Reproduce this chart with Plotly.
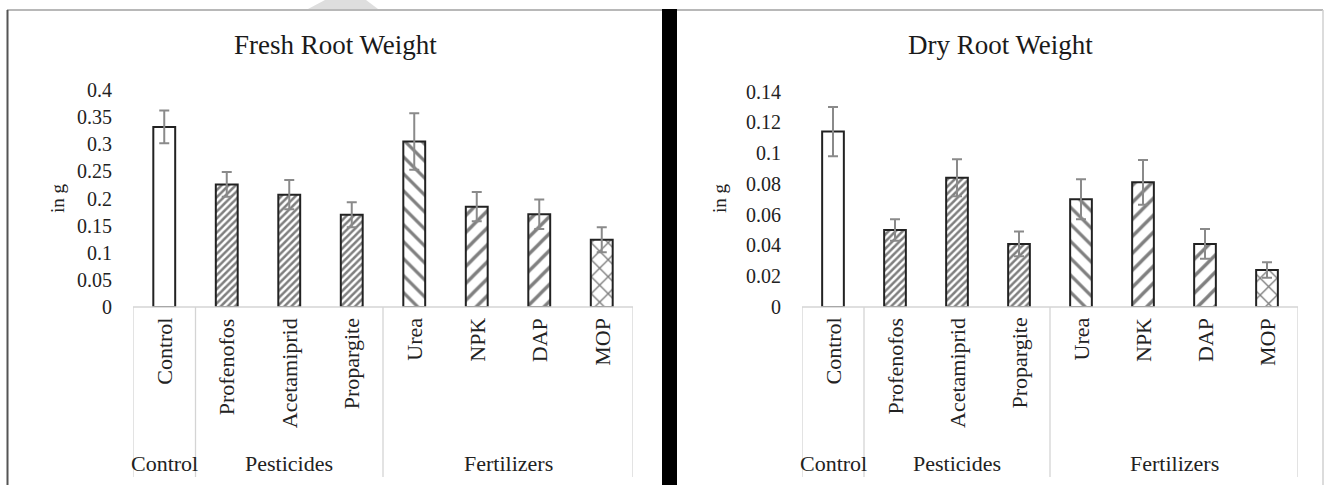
import plotly.graph_objects as go

# ---------------- data ----------------
categories = ["Control", "Profenofos", "Acetamiprid", "Propargite", "Urea", "NPK", "DAP", "MOP"]
groups = ["Control", "Pesticides", "Pesticides", "Pesticides", "Fertilizers", "Fertilizers", "Fertilizers", "Fertilizers"]

fresh_weight = [0.332, 0.226, 0.207, 0.170, 0.305, 0.185, 0.171, 0.124]
fresh_error = [0.030, 0.023, 0.027, 0.023, 0.052, 0.027, 0.027, 0.023]

dry_weight = [0.114, 0.050, 0.084, 0.041, 0.070, 0.081, 0.041, 0.024]
dry_error = [0.016, 0.007, 0.012, 0.008, 0.013, 0.0145, 0.0096, 0.005]

fresh_ticks = [0, 0.05, 0.1, 0.15, 0.2, 0.25, 0.3, 0.35, 0.4]
fresh_ticktext = ["0", "0.05", "0.1", "0.15", "0.2", "0.25", "0.3", "0.35", "0.4"]
dry_ticks = [0, 0.02, 0.04, 0.06, 0.08, 0.10, 0.12, 0.14]
dry_ticktext = ["0", "0.02", "0.04", "0.06", "0.08", "0.1", "0.12", "0.14"]

titles = ["Fresh Root Weight", "Dry Root Weight"]
y_title = "in g"

# ---------------- styles ----------------
W, H = 1325, 485
FONT = "Liberation Serif"
pattern_shapes = ["", "/", "/", "/", "\\", "/", "/", "x"]
pattern_sizes = [6, 5, 5, 5, 12, 12, 12, 12]
pattern_solidity = [0.3, 0.5, 0.5, 0.5, 0.27, 0.28, 0.28, 0.22]

def px_x(p):
    return p / W

def px_y(p):
    return (H - p) / H

panels = [
    dict(vals=fresh_weight, err=fresh_error, ticks=fresh_ticks, ticktext=fresh_ticktext,
         rng=[0, 0.4], x0=133, x1=633, y0=307, y1=90, title_x=335, ytitle_x=57),
    dict(vals=dry_weight, err=dry_error, ticks=dry_ticks, ticktext=dry_ticktext,
         rng=[0, 0.14], x0=802, x1=1298, y0=307, y1=91.5, title_x=1000, ytitle_x=719),
]

fig = go.Figure()
shapes = []
annotations = []

for i, p in enumerate(panels):
    xa = "x" if i == 0 else "x2"
    ya = "y" if i == 0 else "y2"
    fig.add_trace(go.Bar(
        x=categories, y=p["vals"], xaxis=xa, yaxis=ya,
        marker=dict(
            color="white",
            line=dict(color="#222222", width=2),
            pattern=dict(shape=pattern_shapes, size=pattern_sizes, solidity=pattern_solidity,
                         fgcolor="#000000", bgcolor="white", fillmode="overlay"),
        ),
        error_y=dict(type="data", array=p["err"], visible=True, color="#8a8a8a", thickness=2, width=5),
        showlegend=False,
        hoverinfo="x+y",
    ))

    xkey = "xaxis" if i == 0 else "xaxis2"
    ykey = "yaxis" if i == 0 else "yaxis2"
    fig.layout[xkey] = dict(
        domain=[px_x(p["x0"]), px_x(p["x1"])], anchor=ya, type="category",
        range=[-0.5, len(categories) - 0.5], showticklabels=False, showline=False,
        showgrid=False, zeroline=False, ticks="", automargin=False,
    )
    fig.layout[ykey] = dict(
        domain=[px_y(p["y0"]), px_y(p["y1"])], anchor=xa, range=p["rng"],
        tickvals=p["ticks"], ticktext=p["ticktext"], showgrid=False, zeroline=False,
        showline=False, ticks="", ticklabelstandoff=20, automargin=False,
        tickfont=dict(family=FONT, size=20, color="#222222"),
    )

    # Category-axis box: baseline + group separators
    xref = xa
    base_y = px_y(p["y0"])
    bottom_y = px_y(477)
    shapes.append(dict(type="line", xref=xref, yref="paper", x0=-0.5, x1=len(categories) - 0.5,
                       y0=base_y, y1=base_y, line=dict(color="#d4d4d4", width=1.3)))
    bounds = [-0.5]
    for k in range(1, len(groups)):
        if groups[k] != groups[k - 1]:
            bounds.append(k - 0.5)
    bounds.append(len(categories) - 0.5)
    for b in bounds:
        shapes.append(dict(type="line", xref=xref, yref="paper", x0=b, x1=b,
                           y0=base_y, y1=bottom_y, line=dict(color="#d4d4d4", width=1.3)))

    # category labels (rotated)
    for c in categories:
        annotations.append(dict(
            x=c, y=px_y(316), xref=xref, yref="paper", text=c, textangle=-90,
            showarrow=False, xanchor="center", yanchor="top",
            font=dict(family=FONT, size=22, color="#222222"),
        ))
    # group labels
    for a, b in zip(bounds[:-1], bounds[1:]):
        gname = groups[int(a + 0.5)]
        annotations.append(dict(
            x=(a + b) / 2, y=px_y(463), xref=xref, yref="paper", text=gname,
            showarrow=False, xanchor="center", yanchor="middle",
            font=dict(family=FONT, size=22, color="#222222"),
        ))
    # title
    annotations.append(dict(
        x=px_x(p["title_x"]), y=px_y(45), xref="paper", yref="paper", text=titles[i],
        showarrow=False, xanchor="center", yanchor="middle",
        font=dict(family=FONT, size=27, color="#1a1a1a"),
    ))
    # y-axis title
    annotations.append(dict(
        x=px_x(p["ytitle_x"]), y=px_y(198), xref="paper", yref="paper", text=y_title,
        textangle=-90, showarrow=False, xanchor="center", yanchor="middle",
        font=dict(family=FONT, size=19, color="#222222"),
    ))

# outer frame pieces
shapes += [
    dict(type="line", xref="paper", yref="paper", x0=px_x(7), x1=px_x(1323), y0=px_y(10), y1=px_y(10),
         line=dict(color="#b8b8b8", width=2)),
    dict(type="line", xref="paper", yref="paper", x0=px_x(7.5), x1=px_x(7.5), y0=px_y(10), y1=0,
         line=dict(color="#555555", width=2)),
    dict(type="line", xref="paper", yref="paper", x0=px_x(1323), x1=px_x(1323), y0=px_y(10), y1=0,
         line=dict(color="#d0d0d0", width=1.5)),
    dict(type="rect", xref="paper", yref="paper", x0=px_x(662), x1=px_x(677), y0=0, y1=px_y(9),
         fillcolor="black", line=dict(width=0)),
    dict(type="path", xref="paper", yref="paper",
         path=f"M {px_x(308)} {px_y(9)} L {px_x(378)} {px_y(9)} L {px_x(366)} {px_y(0)} L {px_x(325)} {px_y(0)} Z",
         fillcolor="#dedede", line=dict(width=0)),
]

fig.update_layout(
    width=W, height=H, margin=dict(l=0, r=0, t=0, b=0, pad=0, autoexpand=False),
    paper_bgcolor="white", plot_bgcolor="white",
    bargap=0.65, shapes=shapes, annotations=annotations,
    font=dict(family=FONT, color="#222222"),
)

fig.write_html("out.html", config={"displayModeBar": False},
               post_script="document.body.style.margin='0px'; document.body.style.overflow='hidden';")
